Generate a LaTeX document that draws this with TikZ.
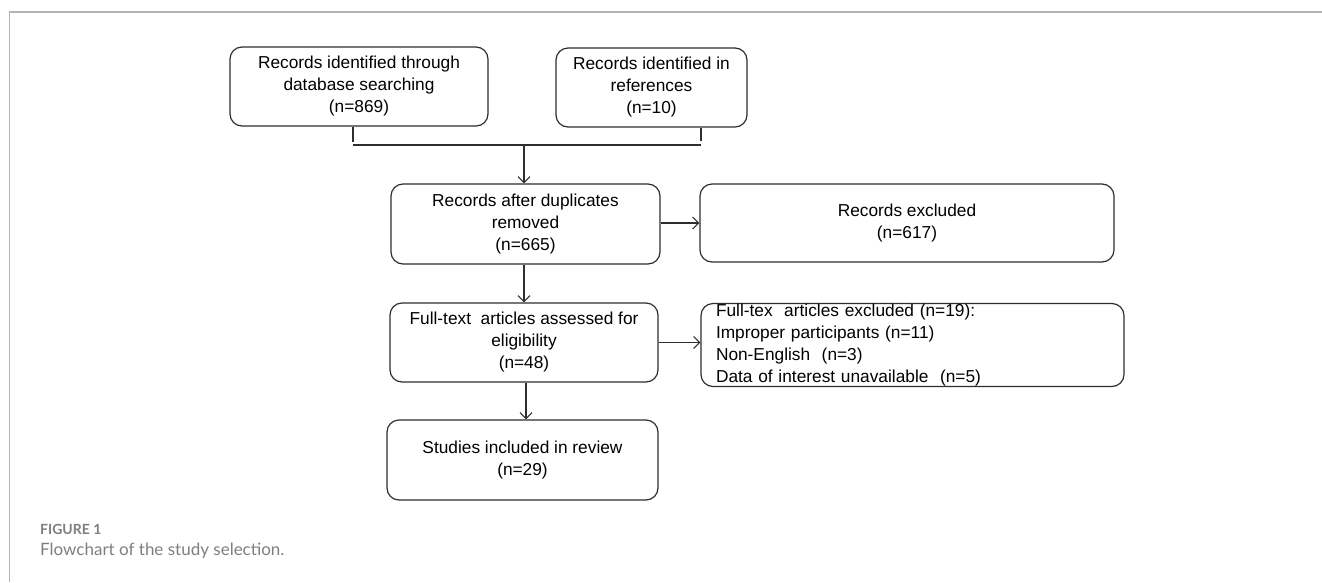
\documentclass[tikz,border=0pt]{standalone}
\usepackage{fontspec}
\setmainfont{Liberation Sans}
\newfontfamily\capfont{Lato}
\usetikzlibrary{arrows.meta}
\definecolor{boxline}{HTML}{2E2E2E}
\definecolor{framegray}{HTML}{B4B4B4}
\definecolor{capgray}{HTML}{7F7F7F}
\tikzset{
  flowbox/.style={draw=boxline, line width=1.2pt, rounded corners=12pt, align=center,
    font=\fontsize{17.3}{22}\selectfont, text=black, inner sep=0pt},
  conn/.style={draw=boxline, line width=1.1pt},
  arr/.style={conn, -{Straight Barb[length=6pt,width=12pt,line width=1.1pt]}},
  captitle/.style={anchor=west, font=\capfont\bfseries\fontsize{14}{16}\selectfont, text=capgray, inner sep=0pt},
  captext/.style={anchor=west, font=\capfont\fontsize{17}{20}\selectfont, text=capgray, inner sep=0pt}
}
\begin{document}
\begin{tikzpicture}[x=1pt,y=-1pt]
\useasboundingbox (0,0) rectangle (1322,582);
\fill[white] (0,0) rectangle (1322,582);
% frame
\draw[framegray, line width=2pt] (9,12) -- (1322,12);
\draw[framegray, line width=1pt] (9,12) -- (9,582);

\node[flowbox, minimum width=258pt, minimum height=79pt] (b1) at (359,86.5)
  {Records identified through\\database searching\\(n=869)};
\node[flowbox, minimum width=191pt, minimum height=79pt] (b2) at (651.5,87.5)
  {Records identified in\\references\\(n=10)};
\node[flowbox, minimum width=269pt, minimum height=80pt] (b3) at (525.5,224)
  {Records after duplicates\\removed\\(n=665)};
\node[flowbox, minimum width=414pt, minimum height=78pt] (b4) at (907,223)
  {Records excluded\\(n=617)};
\node[flowbox, minimum width=268pt, minimum height=79pt] (b5) at (524,342.5)
  {Full-text\ \ articles assessed for\\eligibility\\(n=48)};
\node[flowbox, minimum width=423pt, minimum height=83pt, align=left, text width=393pt, inner xsep=15pt] (b6) at (912.5,345)
  {Full-tex\ \ articles excluded (n=19):\\Improper participants (n=11)\\Non-English\ \ (n=3)\\Data of interest unavailable\ \ (n=5)};
\node[flowbox, minimum width=271pt, minimum height=80pt] (b7) at (522.5,460)
  {Studies included in review\\(n=29)};

% bracket
\coordinate (jl) at (353,145);
\coordinate (jr) at (701,145);
\coordinate (jm) at (524,145);
\draw[conn] (b1.south -| jl) -- ([yshift=3pt]jl);
\draw[conn] (b2.south -| jr) -- ([yshift=4pt]jr);
\draw[conn] (jl) -- (jr);
\draw[arr] (jm) -- (b3.north -| jm);
\draw[arr] (b3.east |- b4.west) -- (b4.west);
\draw[arr] (b3.south -| jm) -- (b5.north -| jm);
\draw[arr] (b5.east) -- (b6.west |- b5.east);
\draw[arr] (b5.south -| 526,0) -- (b7.north -| 526,0);

% caption
\node[captitle] (cap1) at (40,529) {FIGURE 1};
\node[captext] (cap2) at (40,551) {Flowchart of the study selection.};
\end{tikzpicture}
\end{document}
